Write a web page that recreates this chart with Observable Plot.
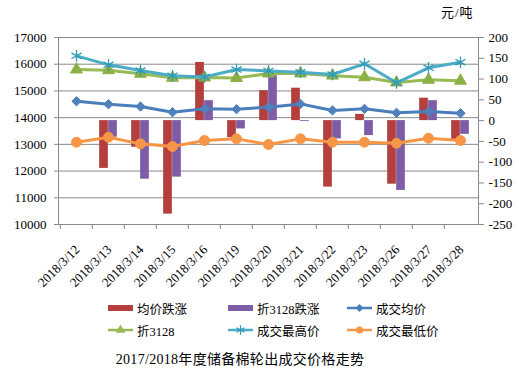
<!DOCTYPE html>
<html>
<head>
<meta charset="utf-8">
<script src="https://cdn.jsdelivr.net/npm/d3@7"></script>
<script src="https://cdn.jsdelivr.net/npm/@observablehq/plot@0.6"></script>
<style>
  body { margin: 0; background: #fff; }
  #wrap { position: relative; width: 519px; height: 383px; overflow: hidden; font-family: "Liberation Serif", "Noto Sans CJK SC", serif; color: #000; }
  #chart { position: absolute; left: 0; top: 0; }
  #chart svg, #chart svg text { font-family: "Liberation Serif", "Noto Sans CJK SC", serif !important; }
  .unit { position: absolute; left: 441px; top: 2px; font-size: 13px; letter-spacing: 1px; }
  .leg { position: absolute; font-size: 12.5px; display: flex; align-items: center; height: 16px; }
  .leg svg { margin-right: 4px; }
  .title { position: absolute; left: 0; width: 480px; top: 348px; text-align: center; font-size: 14px; letter-spacing: 0.3px; }
</style>
</head>
<body>
<div id="wrap">
  <div id="chart"></div>
  <div class="unit">元/吨</div>
  <div id="legend"></div>
  <div class="title">2017/2018年度储备棉轮出成交价格走势</div>
</div>
<script>
const dates = ["2018/3/12","2018/3/13","2018/3/14","2018/3/15","2018/3/16","2018/3/19","2018/3/20","2018/3/21","2018/3/22","2018/3/23","2018/3/26","2018/3/27","2018/3/28"];
const avgChange = [null, -115, -64, -225, 140, -41, 72, 78, -160, 15, -153, 54, -48];
const chg3128 = [null, -40, -141, -136, 48, -20, 108, -2, -44, -36, -168, 48, -33];
const avgPrice = [14614, 14502, 14416, 14203, 14330, 14318, 14390, 14515, 14270, 14330, 14180, 14229, 14165];
const price3128 = [15800, 15775, 15640, 15490, 15500, 15480, 15650, 15650, 15570, 15510, 15315, 15415, 15380];
const highPrice = [16314, 15977, 15764, 15565, 15520, 15800, 15750, 15700, 15614, 16015, 15303, 15865, 16075];
const lowPrice = [13080, 13266, 13019, 12918, 13143, 13206, 12993, 13206, 13080, 13080, 13042, 13229, 13143];
const leftTicks = [10000, 11000, 12000, 13000, 14000, 15000, 16000, 17000];
const rightTicks = [-250, -200, -150, -100, -50, 0, 50, 100, 150, 200];

const W = 519, H = 290, mL = 58, mR = 41, mT = 37, mB = 66;
const bw = (W - mL - mR) / dates.length;
const barW = 9;
// right axis (-250..200) mapped onto left axis (10000..17000)
const r2l = v => 10000 + (v + 250) * 7000 / 450;
const l2r = y => Math.round((y - 10000) * 450 / 7000 - 250);

const barRows = [];
dates.forEach((d, i) => {
  if (avgChange[i] != null) barRows.push({d, s: "a", v: avgChange[i]});
  if (chg3128[i] != null) barRows.push({d, s: "b", v: chg3128[i]});
});
const series = [
  {key: "avg", vals: avgPrice, stroke: "#4A7EBB", fill: "#4F81BD", symbol: "diamond2", r: 4.2, sw: 3},
  {key: "p3128", vals: price3128, stroke: "#98B954", fill: "#8DB045", symbol: "triangle", r: 4.4, sw: 3},
  {key: "high", vals: highPrice, stroke: "#4BACC6", fill: "none", symbol: "asterisk", r: 5.5, sw: 3},
  {key: "low", vals: lowPrice, stroke: "#F79646", fill: "#F79646", symbol: "circle", r: 5, sw: 3}
];
const lineMarks = [];
for (const s of series) {
  const rows = dates.map((d, i) => ({d, v: s.vals[i]}));
  lineMarks.push(Plot.line(rows, {x: "d", y: "v", stroke: s.stroke, strokeWidth: s.sw}));
  if (s.symbol === "asterisk") {
    lineMarks.push(Plot.dot(rows, {x: "d", y: "v", symbol: "asterisk", r: s.r, stroke: "#2E9AB6", strokeWidth: 1.3}));
  } else {
    lineMarks.push(Plot.dot(rows, {x: "d", y: "v", symbol: s.symbol, r: s.r, fill: s.fill, stroke: s.fill, strokeWidth: 1}));
  }
}

const chart = Plot.plot({
  width: W, height: H,
  marginLeft: mL, marginRight: mR, marginTop: mT, marginBottom: mB,
  style: {fontFamily: "'Liberation Serif', serif", fontSize: "13px", color: "#000", background: "#fff"},
  x: {type: "band", domain: dates, padding: 0, label: null},
  y: {domain: [10000, 17000], label: null},
  marks: [
    Plot.ruleY(leftTicks, {stroke: "#8a8a8a", strokeWidth: 1}),
    Plot.barY(barRows.filter(r => r.s === "a"), {x: "d", y1: () => r2l(0), y2: r => r2l(r.v), fill: "#B33F3E", insetLeft: bw / 2 - barW, insetRight: bw / 2}),
    Plot.barY(barRows.filter(r => r.s === "b"), {x: "d", y1: () => r2l(0), y2: r => r2l(r.v), fill: "#7C5DA6", insetLeft: bw / 2, insetRight: bw / 2 - barW}),
    ...lineMarks,
    Plot.frame({stroke: "#8a8a8a"}),
    Plot.axisY({ticks: leftTicks, tickFormat: d => String(d), tickSize: 4, tickPadding: 8, stroke: "#8a8a8a", fontSize: 13, label: null}),
    Plot.axisY({anchor: "right", ticks: rightTicks.map(r2l), tickFormat: y => String(l2r(y)), tickSize: 5, tickPadding: 5, stroke: "#8a8a8a", fontSize: 13, label: null}),
    Plot.axisX({ticks: dates, tickSize: 5, tickFormat: () => "", dx: -bw / 2, stroke: "#8a8a8a", label: null}),
    Plot.axisX({ticks: dates, tickSize: 0, tickPadding: 23, tickRotate: -45, dx: 1, fontSize: 13, label: null})
  ]
});
document.getElementById("chart").appendChild(chart);

// legend
const legendItems = [
  {label: "均价跌涨", kind: "bar", color: "#B33F3E", x: 108, y: 300},
  {label: "折3128跌涨", kind: "bar", color: "#7C5DA6", x: 228, y: 300},
  {label: "成交均价", kind: "line", color: "#4A7EBB", sym: "diamond2", x: 347, y: 300},
  {label: "折3128", kind: "line", color: "#98B954", sym: "triangle", x: 108, y: 322},
  {label: "成交最高价", kind: "line", color: "#4BACC6", sym: "asterisk", x: 228, y: 322},
  {label: "成交最低价", kind: "line", color: "#F79646", sym: "circle", x: 347, y: 322}
];
const symMap = {diamond2: d3.symbolDiamond2, triangle: d3.symbolTriangle, asterisk: d3.symbolAsterisk, circle: d3.symbolCircle};
const leg = document.getElementById("legend");
for (const it of legendItems) {
  const div = document.createElement("div");
  div.className = "leg";
  div.style.left = it.x + "px";
  div.style.top = it.y + "px";
  const svg = d3.create("svg").attr("width", 25).attr("height", 16);
  if (it.kind === "bar") {
    svg.append("rect").attr("x", 0).attr("y", 5).attr("width", 25).attr("height", 6).attr("fill", it.color);
  } else {
    svg.append("line").attr("x1", 0).attr("x2", 25).attr("y1", 8).attr("y2", 8).attr("stroke", it.color).attr("stroke-width", 2.5);
    const size = it.sym === "circle" ? 40 : it.sym === "asterisk" ? 60 : 40;
    const p = svg.append("path").attr("transform", "translate(12.5,8)").attr("d", d3.symbol(symMap[it.sym], size)());
    if (it.sym === "asterisk") p.attr("fill", "none").attr("stroke", "#2E9AB6").attr("stroke-width", 1.2);
    else p.attr("fill", it.color);
  }
  div.appendChild(svg.node());
  const span = document.createElement("span");
  span.textContent = it.label;
  div.appendChild(span);
  leg.appendChild(div);
}
</script>
</body>
</html>
